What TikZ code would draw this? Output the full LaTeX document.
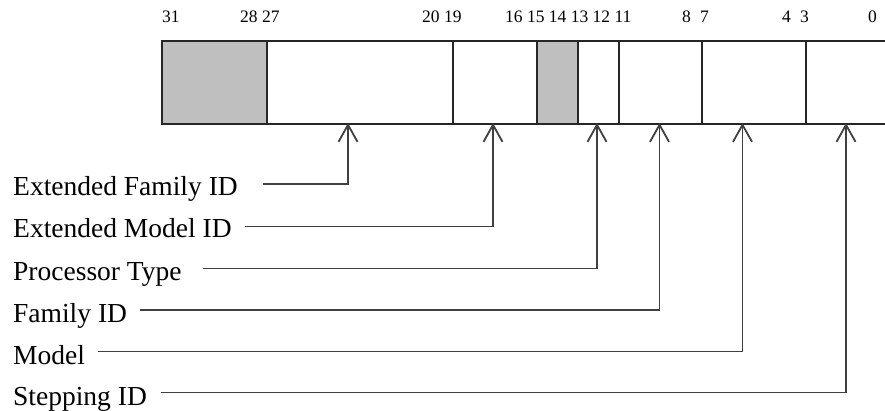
\documentclass[tikz,border=0pt]{standalone}
\usepackage{fontspec}
\setmainfont{Liberation Serif}
\usetikzlibrary{arrows.meta}
\begin{document}
\begin{tikzpicture}[x=1pt,y=-1pt,
  field/.style={draw=black!85,line width=1.6pt,minimum height=83pt,inner sep=0pt,anchor=north west},
  shaded/.style={field,fill=black!25},
  bitno/.style={anchor=base west,inner sep=0pt,font=\fontsize{17.5}{20}\selectfont},
  lab/.style={anchor=base west,inner sep=0pt,font=\fontsize{27.5}{30}\selectfont},
  conn/.style={draw=black!75,line width=1.8pt,-{Straight Barb[length=17pt,width=19pt,line width=1.8pt]}}]
\useasboundingbox (0,0) rectangle (885,411);
% fields
\node[shaded,minimum width=105pt] (f3128) at (161,40) {};
\node[field,minimum width=186pt] (f2720) at (266,40) {};
\node[field,minimum width=84pt] (f1916) at (452,40) {};
\node[shaded,minimum width=41pt] (f1514) at (536,40) {};
\node[field,minimum width=41pt] (f1312) at (577,40) {};
\node[field,minimum width=83pt] (f1108) at (618,40) {};
\node[field,minimum width=104pt] (f0704) at (701,40) {};
\node[field,minimum width=80pt] (f0300) at (805,40) {};
% bit numbers
\node[bitno] (b31) at (162,22.5) {31};
\node[bitno] (b28) at (240,22.5) {28 27};
\node[bitno] (b20) at (422,22.5) {20 19};
\node[bitno] (b16) at (505,22.5) {16 15 14 13 12 11};
\node[bitno] (b8) at (682,22.5) {8};
\node[bitno] (b7) at (700,22.5) {7};
\node[bitno] (b4) at (782,22.5) {4};
\node[bitno] (b3) at (800,22.5) {3};
\node[bitno] (b0) at (868,22.5) {0};
% labels
\node[lab] (lEF) at (13,196) {Extended Family ID};
\node[lab] (lEM) at (13,238) {Extended Model ID};
\node[lab] (lPT) at (13,280) {Processor Type};
\node[lab] (lFI) at (13,322) {Family ID};
\node[lab] (lMO) at (13,364) {Model};
\node[lab] (lST) at (13,405) {Stepping ID};
% connector start points
\coordinate (sEF) at (263,184);
\coordinate (sEM) at (245,226.5);
\coordinate (sPT) at (203,268.5);
\coordinate (sFI) at (140,310);
\coordinate (sMO) at (98,351.5);
\coordinate (sST) at (161,392.5);
% targets on the bottom edge
\coordinate (tEF) at (348,123);
\coordinate (tEM) at (493,123);
\coordinate (tPT) at (597,123);
\coordinate (tFI) at (659.5,123);
\coordinate (tMO) at (742.5,123);
\coordinate (tST) at (846,123);
% connectors
\draw[conn] (sEF) -| (tEF);
\draw[conn] (sEM) -| (tEM);
\draw[conn] (sPT) -| (tPT);
\draw[conn] (sFI) -| (tFI);
\draw[conn] (sMO) -| (tMO);
\draw[conn] (sST) -| (tST);
\end{tikzpicture}
\end{document}
